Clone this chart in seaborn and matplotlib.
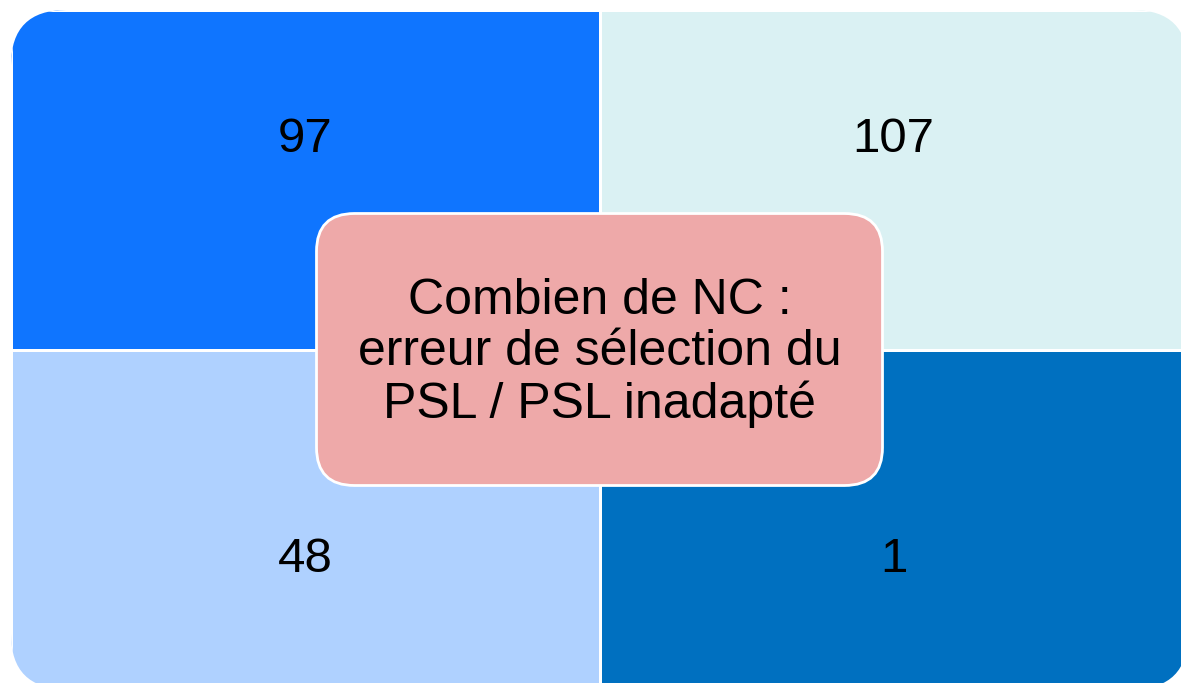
import numpy as np
import pandas as pd
import seaborn as sns
import matplotlib.pyplot as plt
from matplotlib.colors import ListedColormap
from matplotlib.patches import FancyBboxPatch
from matplotlib.transforms import IdentityTransform

# valeurs des 4 quadrants (haut-gauche, haut-droit / bas-gauche, bas-droit)
counts = [[97, 107],
          [48, 1]]
quad_colors = ['#0F75FF', '#DAF1F3', '#AFD1FF', '#0070C0']
center_label = 'Combien de NC :\nerreur de sélection du\nPSL / PSL inadapté'

sns.set_style('white')
plt.rcParams['font.family'] = ['Liberation Sans', 'DejaVu Sans']

fig = plt.figure(figsize=(11.81, 6.83), dpi=100)
# la matrice deborde un peu a droite et en bas
ax = fig.add_axes([11 / 1181, -6 / 683, 1177 / 1181, 679 / 683])

# chaque case a sa propre couleur -> index de couleur
color_idx = pd.DataFrame(np.arange(4).reshape(2, 2))
sns.heatmap(color_idx, cmap=ListedColormap(quad_colors), vmin=-0.5, vmax=3.5,
            annot=np.array(counts), fmt='d', cbar=False,
            linewidths=2, linecolor='white',
            annot_kws={'fontsize': 35.5, 'color': 'black'},
            xticklabels=False, yticklabels=False, ax=ax)

# nombres decales vers l'exterieur comme dans le SmartArt
for t in ax.texts:
    x, y = t.get_position()
    t.set_position((x, y - 0.12 if y < 1 else y + 0.12))

# coins arrondis de la matrice
bb = ax.bbox
clip = FancyBboxPatch((bb.x0, bb.y0), bb.width, bb.height,
                      boxstyle='round,pad=0,rounding_size=55',
                      transform=IdentityTransform())
ax.collections[0].set_clip_path(clip)

# cadre central
cx, cy = ax.transData.transform((1, 1))
bw, bh = 566, 272
box = FancyBboxPatch((cx - bw / 2, cy - bh / 2), bw, bh,
                     boxstyle='round,pad=0,rounding_size=38',
                     facecolor='#EEA9A9', edgecolor='white', linewidth=2,
                     transform=IdentityTransform(), zorder=5, clip_on=False)
ax.add_patch(box)
ax.text(1, 1.01, center_label, ha='center', va='center', fontsize=36,
        linespacing=1.15, color='black', zorder=6)

for s in ax.spines.values():
    s.set_visible(False)

fig.savefig('out.png', dpi=100)
